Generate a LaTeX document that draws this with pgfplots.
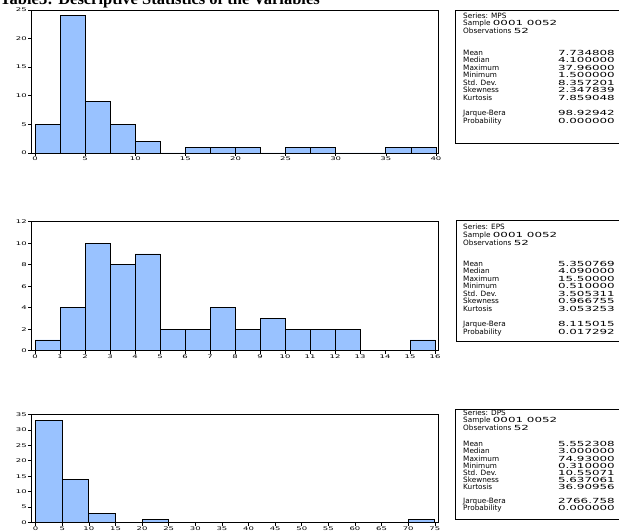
\documentclass[border=0pt]{standalone}
\usepackage{fontspec}
\setmainfont{DejaVu Sans}
\newfontfamily\widefont[FakeStretch=1.7]{DejaVu Sans}
\newfontfamily\titlefont{Liberation Serif}
\usepackage{pgfplots}
\pgfplotsset{compat=1.18}
\definecolor{barblue}{RGB}{153,194,255}
\pgfplotsset{evh/.style={
  scale only axis, width=407pt, anchor=south west, ymin=0,
  axis line style={black,line width=0.8pt},
  every tick/.style={black,line width=0.6pt},
  tick align=outside, major tick length=3pt,
  xtick pos=bottom, ytick pos=left,
  tick label style={font=\widefont\fontsize{5}{6}\selectfont},
  /pgf/number format/assume math mode=true,
  yticklabel style={inner xsep=1pt},
  xticklabel style={inner ysep=1pt},
}}
\newcommand\statfont{\fontsize{7.3}{8}\selectfont}
\newcommand\statnum{\widefont\fontsize{7}{8}\selectfont}
\newcommand\hdline[2]{\node[anchor=mid west,inner sep=0,font=\statfont] at (463,{531-#1}) {#2};}
\newcommand\sline[3]{%
  \node[anchor=mid west,inner sep=0,font=\statfont] at (463,{531-#1}) {#2};
  \node[anchor=mid east,inner sep=0,font=\statnum] at (615,{531-#1}) {#3};}
\begin{document}
\begin{tikzpicture}[x=1pt,y=1pt]
\useasboundingbox (0,0) rectangle (619,531);
\coordinate (A1) at (31,378);
\coordinate (A2) at (31,180.3);
\coordinate (A3) at (31,8.5);
\node[anchor=base west,inner sep=0,font=\titlefont\bfseries\fontsize{16.5}{18}\selectfont] at (0,526) {Table3: Descriptive Statistics of the Variables};

% ---------- MPS ----------
\begin{axis}[evh, at={(A1)}, height=143pt, xmin=-0.4, xmax=40.2, ymax=25,
  xtick={0,5,...,40}, ytick={0,5,...,25}]
\addplot[ybar interval, fill=barblue, draw=black, line width=0.8pt] coordinates {
(0,5) (2.5,24) (5,9) (7.5,5) (10,2) (12.5,0) (15,1) (17.5,1) (20,1) (22.5,0)
(25,1) (27.5,1) (30,0) (32.5,0) (35,1) (37.5,1) (40,1)};
\end{axis}
\draw[line width=0.6pt] (455,521) rectangle (640,388);
\hdline{16}{Series: MPS}
\hdline{23}{Sample {\statnum 0001 0052}}
\hdline{30.5}{Observations {\statnum 52}}
\sline{52.5}{Mean}{7.734808}
\sline{60}{Median}{4.100000}
\sline{67.5}{Maximum}{37.96000}
\sline{75}{Minimum}{1.500000}
\sline{82.5}{Std. Dev.}{8.357201}
\sline{90}{Skewness}{2.347839}
\sline{97.5}{Kurtosis}{7.859048}
\sline{113}{Jarque-Bera}{98.92942}
\sline{120.5}{Probability}{0.000000}

% ---------- EPS ----------
\begin{axis}[evh, at={(A2)}, height=129pt, xmin=-0.16, xmax=16.12, ymax=12,
  xtick={0,1,...,16}, ytick={0,2,...,12}]
\addplot[ybar interval, fill=barblue, draw=black, line width=0.8pt] coordinates {
(0,1) (1,4) (2,10) (3,8) (4,9) (5,2) (6,2) (7,4) (8,2) (9,3) (10,2) (11,2) (12,2)
(13,0) (14,0) (15,1) (16,1)};
\end{axis}
\draw[line width=0.6pt] (456,311) rectangle (640,190);
\hdline{227}{Series: EPS}
\hdline{235}{Sample {\statnum 0001 0052}}
\hdline{243}{Observations {\statnum 52}}
\sline{263.5}{Mean}{5.350769}
\sline{271}{Median}{4.090000}
\sline{278.5}{Maximum}{15.50000}
\sline{286}{Minimum}{0.510000}
\sline{293.5}{Std. Dev.}{3.505311}
\sline{301}{Skewness}{0.966755}
\sline{308.5}{Kurtosis}{3.053253}
\sline{324}{Jarque-Bera}{8.115015}
\sline{332}{Probability}{0.017292}

% ---------- DPS ----------
\begin{axis}[evh, at={(A3)}, height=108pt, xmin=-0.88, xmax=75.6, ymax=35,
  xtick={0,5,...,75}, ytick={0,5,...,35}]
\addplot[ybar interval, fill=barblue, draw=black, line width=0.8pt] coordinates {
(0,33) (5,14) (10,3) (15,0) (20,1) (25,0) (30,0) (35,0) (40,0) (45,0) (50,0)
(55,0) (60,0) (65,0) (70,1) (75,1)};
\end{axis}
\draw[line width=0.6pt] (455,122) rectangle (640,12);
\hdline{413}{Series: DPS}
\hdline{420}{Sample {\statnum 0001 0052}}
\hdline{427.5}{Observations {\statnum 52}}
\sline{444}{Mean}{5.552308}
\sline{451}{Median}{3.000000}
\sline{458.5}{Maximum}{74.93000}
\sline{465.5}{Minimum}{0.310000}
\sline{472.5}{Std. Dev.}{10.55071}
\sline{479.5}{Skewness}{5.637061}
\sline{486.5}{Kurtosis}{36.90956}
\sline{501}{Jarque-Bera}{2766.758}
\sline{508}{Probability}{0.000000}
\end{tikzpicture}
\end{document}
